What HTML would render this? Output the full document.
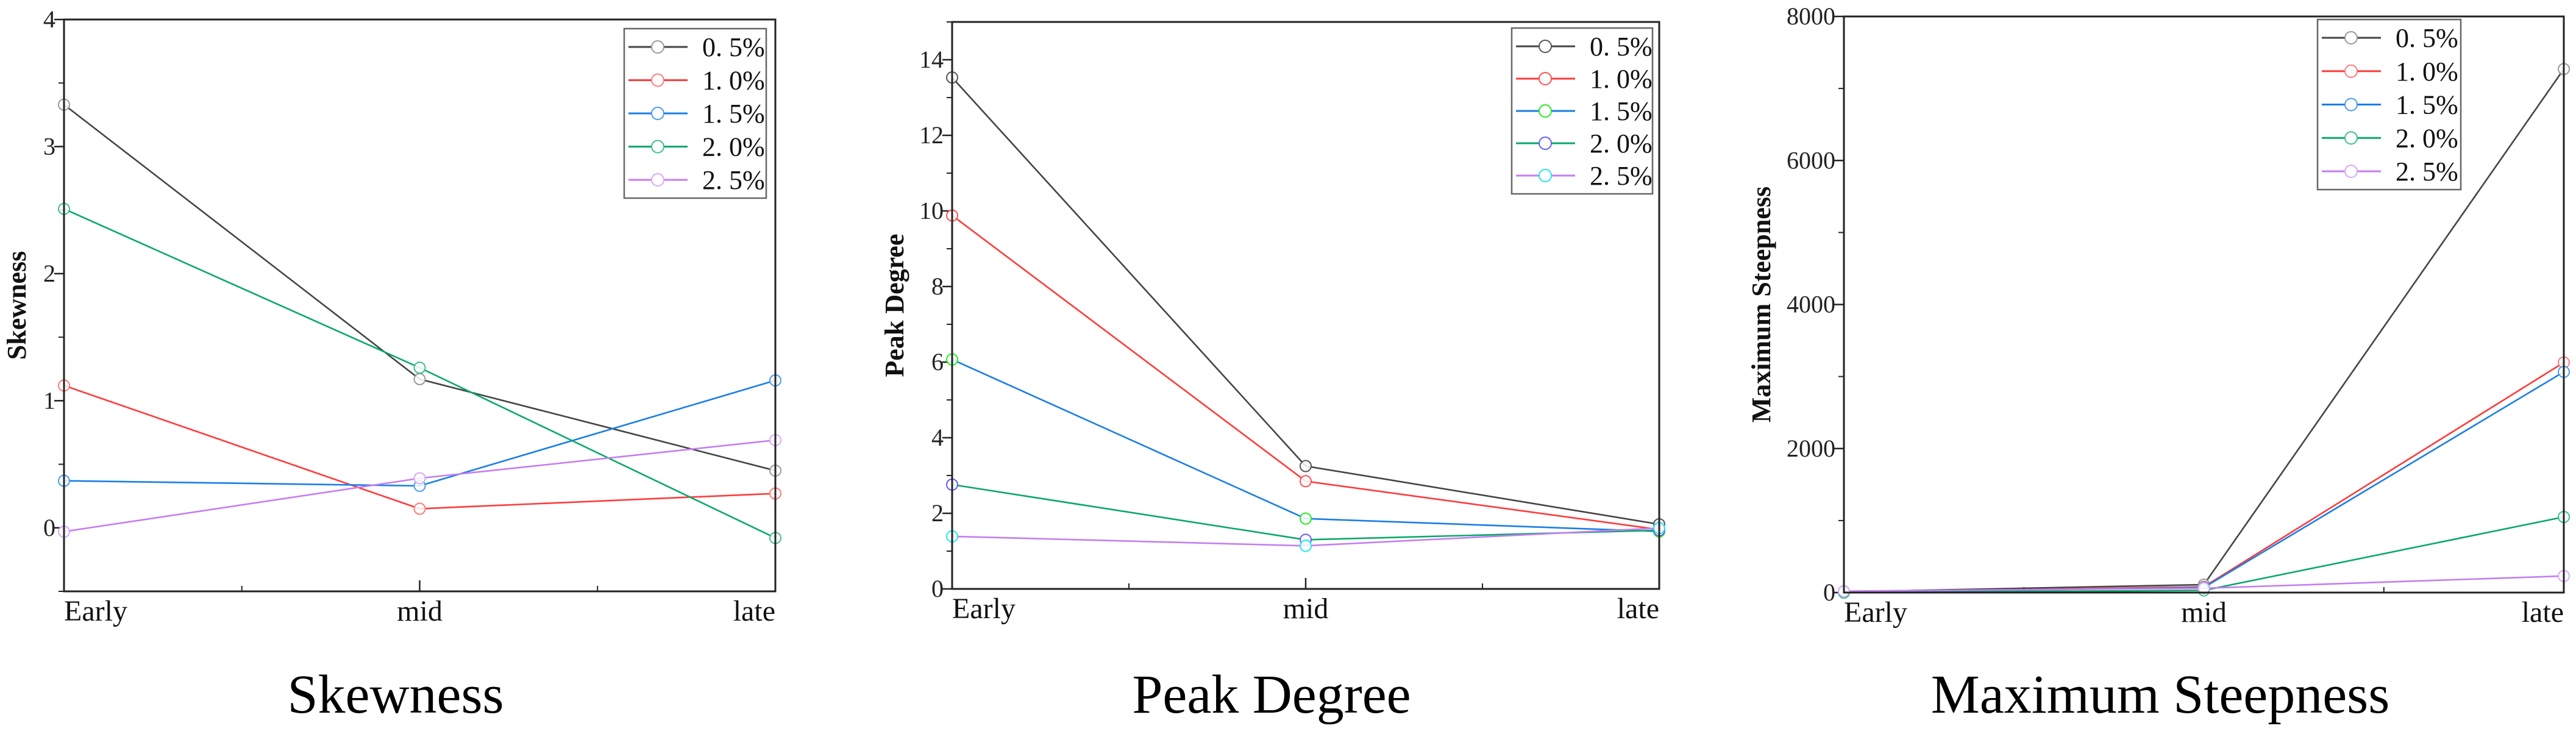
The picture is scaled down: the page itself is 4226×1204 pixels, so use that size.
<!DOCTYPE html>
<html><head><meta charset="utf-8"><style>
html,body{margin:0;padding:0;background:#fff;}
svg{display:block;font-family:"Liberation Serif","Noto Serif CJK SC",serif;}
</style></head><body>
<svg id="fig" width="4226" height="1204" viewBox="0 0 4226 1204" xmlns="http://www.w3.org/2000/svg"></svg>
<script>
const categories = ["Early","mid","late"];
const seriesNames = ["0. 5%","1. 0%","1. 5%","2. 0%","2. 5%"];
const skewness05 = [3.33, 1.17, 0.45];
const skewness10 = [1.12, 0.15, 0.27];
const skewness15 = [0.37, 0.33, 1.16];
const skewness20 = [2.51, 1.26, -0.08];
const skewness25 = [-0.03, 0.39, 0.69];
const peak05 = [13.53, 3.25, 1.71];
const peak10 = [9.88, 2.85, 1.57];
const peak15 = [6.07, 1.86, 1.52];
const peak20 = [2.76, 1.30, 1.55];
const peak25 = [1.39, 1.14, 1.61];
const steep05 = [10, 110, 7270];
const steep10 = [0, 80, 3195];
const steep15 = [0, 70, 3065];
const steep20 = [0, 30, 1050];
const steep25 = [20, 60, 230];
const skewTicks = [0, 1, 2, 3, 4];
const peakTicks = [0, 2, 4, 6, 8, 10, 12, 14];
const steepTicks = [0, 2000, 4000, 6000, 8000];

const lineColors = ["#444444","#ff3b3b","#1a7ee6","#09a86a","#c47ef0"];
const svg = document.getElementById('fig');
const NS = "http://www.w3.org/2000/svg";
function mk(tag, attrs, parent){
  const e = document.createElementNS(NS, tag);
  for (const k in attrs) e.setAttribute(k, attrs[k]);
  (parent||svg).appendChild(e);
  return e;
}
function chart(cfg){
  const g = mk('g', {});
  
  
  const {L,R,T,B,ymin,ymax} = cfg;
  const ys = v => B - (v - ymin) / (ymax - ymin) * (B - T);
  const xs = i => L + i * (R - L) / (categories.length - 1);
  // minor y ticks
  for (let v = Math.ceil(ymin / cfg.minor) * cfg.minor; v <= ymax + 1e-9; v += cfg.minor) {
    const t = mk('line', {x1:L-9, x2:L, y1:ys(v), y2:ys(v), stroke:'#222', 'stroke-width':2}, g);
    
    
  }
  cfg.ticks.forEach(v => {
    const t = mk('line', {x1:L-16, x2:L, y1:ys(v), y2:ys(v), stroke:'#222', 'stroke-width':2.5}, g);
    
    
    const tx = mk('text', {x:L-14, y:ys(v)+13, 'text-anchor':'end', 'font-size':40, fill:'#222'}, g);
    tx.textContent = v;
    
    
  });
  // x ticks
  for (let i = 0; i < categories.length; i++) {
    if (i > 0 && i < categories.length - 1) {
      const t = mk('line', {x1:xs(i), x2:xs(i), y1:B-18, y2:B, stroke:'#222', 'stroke-width':2.5}, g);
      
      
    }
    if (i < categories.length - 1) {
      const xm = (xs(i) + xs(i+1)) / 2;
      const t = mk('line', {x1:xm, x2:xm, y1:B-9, y2:B, stroke:'#222', 'stroke-width':2}, g);
      
      
    }
    const anchor = i === 0 ? 'start' : (i === categories.length - 1 ? 'end' : 'middle');
    const tx = mk('text', {x:xs(i), y:B+48, 'text-anchor':anchor, 'font-size':48, fill:'#111'}, g);
    tx.textContent = categories[i];
    
    
  }
  // series
  cfg.series.forEach((arr, s) => {
    const pts = arr.map((v, i) => xs(i) + ',' + ys(v)).join(' ');
    const pl = mk('polyline', {points:pts, fill:'none', stroke:lineColors[s], 'stroke-width':2.6}, g);
    
    
    arr.forEach((v, i) => {
      const c = mk('circle', {cx:xs(i), cy:ys(v), r:9, fill:'#fff', 'fill-opacity':0.85, stroke:cfg.markers[s], 'stroke-width':2}, g);
      
      
    });
  });
  // frame
  const fr = mk('rect', {x:L, y:T, width:R-L, height:B-T, fill:'none', stroke:'#222', 'stroke-width':3}, g);
  
  
  // legend
  const lg = cfg.legend;
  const lgG = mk('g', {}, g);
  
  
  mk('rect', {x:lg.x, y:lg.y, width:lg.w, height:lg.h, fill:'#fff', stroke:'#666', 'stroke-width':2.5}, lgG);
  seriesNames.forEach((n, s) => {
    const ey = lg.y + 30 + s * (lg.h - 60) / 4;
    const e = mk('g', {}, lgG);
    
    
    mk('line', {x1:lg.x+7, x2:lg.x+104, y1:ey, y2:ey, stroke:lineColors[s], 'stroke-width':3}, e);
    mk('circle', {cx:lg.x+55, cy:ey, r:10, fill:'#fff', stroke:cfg.markers[s], 'stroke-width':2}, e);
    const t = mk('text', {x:lg.x+128, y:ey+15, 'font-size':44, fill:'#111'}, e);
    t.textContent = n;
  });
  // y title
  const yt = mk('text', {x:0, y:0, transform:'translate(' + (cfg.ytx) + ',' + ((T+B)/2) + ') rotate(-90)', 'text-anchor':'middle', 'font-size':44, 'font-weight':'bold', fill:'#111'}, g);
  yt.textContent = cfg.ytitle;
  
  
  const ct = mk('text', {x:cfg.titleX, y:1169, 'text-anchor':'middle', 'font-size':90, fill:'#000'}, g);
  ct.textContent = cfg.title;
  
  
}
chart({name:'skewness-chart', L:105, R:1272, T:32, B:970, ymin:-0.5, ymax:4, minor:0.5, ticks:skewTicks,
  series:[skewness05, skewness10, skewness15, skewness20, skewness25],
  markers:["#999","#ff7a7a","#4a9af0","#3cc08a","#d8a8f5"],
  legend:{x:1024, y:47, w:233, h:278}, ytx:42, ytitle:'Skewness', title:'Skewness', titleX:649});
chart({name:'peak-degree-chart', L:1562, R:2722, T:36, B:966, ymin:0, ymax:15, minor:1, ticks:peakTicks,
  series:[peak05, peak10, peak15, peak20, peak25],
  markers:["#555","#ff5050","#22ee22","#6a5cf0","#22e8f0"],
  legend:{x:2480, y:46, w:231, h:272}, ytx:1482, ytitle:'Peak Degree', title:'Peak Degree', titleX:2086});
chart({name:'maximum-steepness-chart', L:3025, R:4206, T:27, B:972, ymin:0, ymax:8000, minor:1000, ticks:steepTicks,
  series:[steep05, steep10, steep15, steep20, steep25],
  markers:["#999","#ff7a7a","#4a9af0","#3cc08a","#d8a8f5"],
  legend:{x:3802, y:32, w:235, h:279}, ytx:2904, ytitle:'Maximum Steepness', title:'Maximum Steepness', titleX:3544});
</script>
</body></html>
